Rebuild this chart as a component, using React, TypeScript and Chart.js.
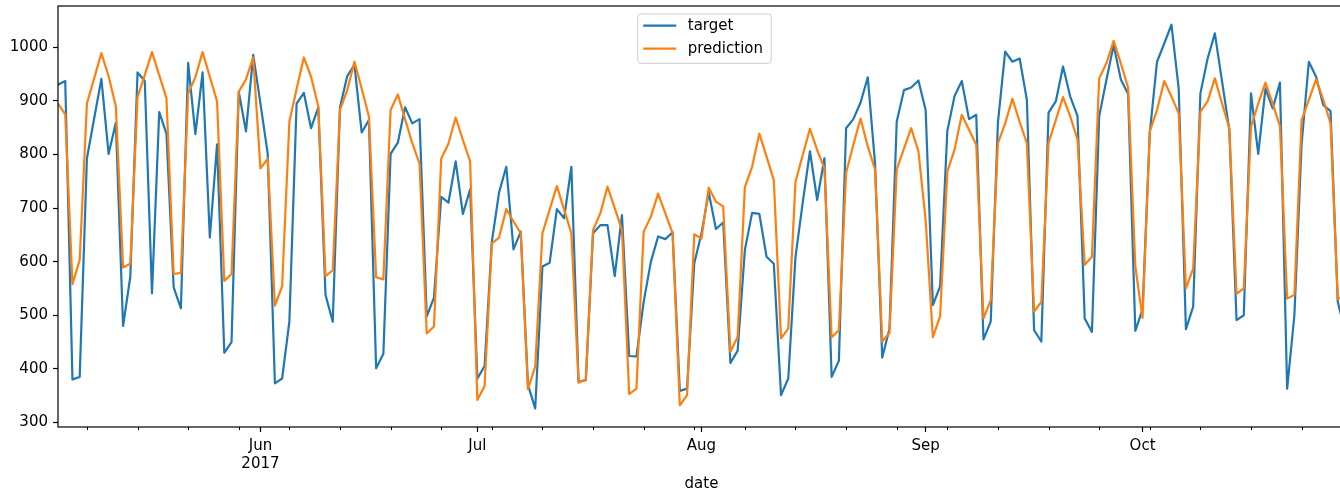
import React, { useEffect, useRef } from 'react';
import { Chart, registerables } from 'chart.js';

Chart.register(...registerables);

// Daily series starting 2017-05-04 (index 0)
const target: number[] = [
  930, 937, 380, 385, 793, 867, 941, 801, 859, 480,
  572, 953, 937, 541, 879, 839, 552, 513, 971, 838,
  953, 645, 819, 430, 450, 917, 843, 986, 895, 802,
  373, 382, 488, 895, 915, 849, 888, 538, 488, 888,
  946, 967, 841, 864, 401, 428, 801, 822, 888, 858,
  866, 498, 533, 721, 710, 787, 689, 735, 382, 405,
  637, 729, 777, 623, 656, 370, 326, 591, 598, 698,
  681, 777, 376, 379, 653, 668, 668, 573, 687, 424,
  423, 525, 600, 647, 642, 655, 359, 363, 597, 653,
  729, 661, 673, 411, 434, 622, 691, 689, 609, 596,
  351, 382, 609, 710, 806, 715, 793, 385, 415, 849,
  866, 897, 944, 784, 421, 475, 861, 920, 925, 938,
  883, 519, 554, 844, 909, 937, 866, 874, 455, 488,
  860, 992, 973, 979, 902, 472, 451, 878, 899, 964,
  908, 872, 494, 469, 871, 939, 1004, 940, 913, 471,
  511, 840, 973, 1007, 1042, 923, 474, 516, 914, 979,
  1026, 936, 846, 491, 500, 914, 801, 923, 886, 934,
  363, 500, 820, 973, 945, 892, 881, 525, 470,
];

const prediction: number[] = [
  895, 875, 558, 603, 895, 942, 989, 946, 890, 589,
  596, 907, 948, 991, 948, 905, 577, 579, 914, 944,
  991, 945, 899, 564, 577, 917, 940, 981, 774, 792,
  518, 554, 861, 922, 981, 945, 890, 573, 584, 883,
  920, 973, 923, 871, 571, 567, 883, 912, 866, 821,
  783, 466, 479, 792, 820, 869, 827, 787, 342, 368,
  634, 645, 698, 675, 653, 362, 404, 653, 697, 741,
  697, 653, 374, 380, 659, 690, 740, 700, 659, 353,
  363, 656, 684, 727, 690, 653, 332, 351, 651, 643,
  738, 712, 703, 432, 460, 739, 777, 839, 796, 752,
  457, 475, 749, 799, 848, 808, 774, 459, 472, 766,
  818, 867, 815, 772, 451, 467, 772, 811, 849, 806,
  678, 459, 498, 768, 809, 874, 846, 818, 494, 528,
  821, 858, 904, 861, 821, 507, 525, 822, 864, 907,
  871, 828, 594, 609, 942, 970, 1012, 970, 925, 591,
  495, 843, 883, 937, 908, 877, 550, 587, 880, 899,
  942, 895, 849, 540, 550, 852, 895, 934, 895, 853,
  531, 538, 864, 902, 940, 902, 858, 531, 535,
];

// Month starts (day index from 2017-05-04) and their labels
const monthTickIdx: number[] = [28, 58, 89, 120, 150];
const monthTickLabels: (string | string[])[] = [['Jun', '2017'], 'Jul', 'Aug', 'Sep', 'Oct'];
// Mondays (minor ticks)
const mondayIdx: number[] = [4, 11, 18, 25, 32, 39, 46, 53, 60, 67, 74, 81, 88, 95, 102, 109, 116, 123, 130, 137, 144, 151, 158, 165, 172];
const yTicks: number[] = [300, 400, 500, 600, 700, 800, 900, 1000];

const BLUE = '#1f77b4';
const ORANGE = '#ff7f0e';
const FONT = "'DejaVu Sans', sans-serif";

const framePlugin = {
  id: 'frame',
  afterDatasetsDraw(chart: any) {
    const { ctx, chartArea } = chart;
    const { left, right, top, bottom } = chartArea;
    ctx.save();
    const xs = chart.scales.x;
    ctx.strokeStyle = '#000';
    ctx.lineWidth = 1;
    ctx.beginPath();
    for (const m of mondayIdx) {
      const px = Math.round(xs.getPixelForValue(m)) + 0.5;
      ctx.moveTo(px, bottom);
      ctx.lineTo(px, bottom + 3);
    }
    ctx.stroke();
    ctx.lineWidth = 1.2;
    ctx.strokeRect(left, top, right - left, bottom - top);
    ctx.restore();
  },
  afterDraw(chart: any) {
    const { ctx, chartArea } = chart;
    const cx = (chartArea.left + chartArea.right) / 2 + 3;
    const bw = 133.5;
    const bx = cx - bw / 2;
    const by = chartArea.top + 8;
    const bh = 49.3;
    ctx.save();
    ctx.beginPath();
    const r = 3;
    ctx.moveTo(bx + r, by);
    ctx.lineTo(bx + bw - r, by);
    ctx.quadraticCurveTo(bx + bw, by, bx + bw, by + r);
    ctx.lineTo(bx + bw, by + bh - r);
    ctx.quadraticCurveTo(bx + bw, by + bh, bx + bw - r, by + bh);
    ctx.lineTo(bx + r, by + bh);
    ctx.quadraticCurveTo(bx, by + bh, bx, by + bh - r);
    ctx.lineTo(bx, by + r);
    ctx.quadraticCurveTo(bx, by, bx + r, by);
    ctx.closePath();
    ctx.fillStyle = 'rgba(255,255,255,0.8)';
    ctx.fill();
    ctx.strokeStyle = '#cccccc';
    ctx.lineWidth = 1;
    ctx.stroke();
    const items = chart.data.datasets.map((d: any) => ({ label: d.label, color: d.borderColor }));
    items.forEach((it: any, k: number) => {
      const y = by + 11.7 + k * 23;
      ctx.strokeStyle = it.color;
      ctx.lineWidth = 2.2;
      ctx.beginPath();
      ctx.moveTo(bx + 5.5, y);
      ctx.lineTo(bx + 38.5, y);
      ctx.stroke();
      ctx.fillStyle = '#000';
      ctx.font = `15px ${FONT}`;
      ctx.textBaseline = 'middle';
      ctx.textAlign = 'left';
      ctx.fillText(it.label, bx + 50, y);
    });
    ctx.restore();
  },
};

export default function App() {
  const ref = useRef<HTMLCanvasElement | null>(null);
  useEffect(() => {
    if (!ref.current) return;
    Chart.defaults.font.family = FONT;
    Chart.defaults.font.size = 15;
    const chart = new Chart(ref.current, {
      type: 'line',
      data: {
        datasets: [
          {
            label: 'target',
            data: target.map((y, i) => ({ x: i, y })),
            borderColor: BLUE,
            backgroundColor: BLUE,
            borderWidth: 2.2,
            pointRadius: 0,
            tension: 0,
            fill: false,
            borderJoinStyle: 'round',
            order: 1,
          },
          {
            label: 'prediction',
            data: prediction.map((y, i) => ({ x: i, y })),
            borderColor: ORANGE,
            backgroundColor: ORANGE,
            borderWidth: 2.2,
            pointRadius: 0,
            tension: 0,
            fill: false,
            borderJoinStyle: 'round',
            order: 0,
          },
        ],
      },
      options: {
        responsive: false,
        animation: false,
        events: [],
        layout: { padding: { top: 6, right: 15, left: 0, bottom: 0 } },
        plugins: { legend: { display: false }, tooltip: { enabled: false }, title: { display: false } },
        scales: {
          x: {
            type: 'linear',
            min: 0,
            max: target.length - 1,
            afterFit: (s: any) => { s.height = 64; s.paddingLeft = 0; s.paddingRight = 0; },
            afterBuildTicks: (s: any) => { s.ticks = monthTickIdx.map((v) => ({ value: v })); },
            ticks: {
              autoSkip: false,
              maxRotation: 0,
              color: '#000',
              padding: 5,
              font: { size: 15, lineHeight: 1.2 },
              callback: (v: any) => {
                const k = monthTickIdx.indexOf(Number(v));
                return k >= 0 ? monthTickLabels[k] : '';
              },
            },
            grid: { display: true, drawOnChartArea: false, tickLength: 5, tickColor: '#000', tickWidth: 1.2 },
            border: { display: false },
            title: { display: true, text: 'date', color: '#000', font: { size: 15, lineHeight: 1.2 }, padding: { top: 0, bottom: -2 } },
          },
          y: {
            min: 291.5,
            max: 1077,
            afterFit: (s: any) => { s.width = 58; s.paddingTop = 0; s.paddingBottom = 0; },
            afterBuildTicks: (s: any) => { s.ticks = yTicks.map((v) => ({ value: v })); },
            ticks: { color: '#000', padding: 5, font: { size: 15, lineHeight: 1.2 }, callback: (v: any) => String(v) },
            grid: { display: true, drawOnChartArea: false, tickLength: 5, tickColor: '#000', tickWidth: 1.2 },
            border: { display: false },
          },
        },
      },
      plugins: [framePlugin],
    });
    return () => chart.destroy();
  }, []);
  return (
    <div style={{ position: 'fixed', left: 0, top: 0, width: 1340, height: 491, overflow: 'hidden', background: '#fff' }}>
      <canvas ref={ref} width={1360} height={491} style={{ display: 'block' }} />
    </div>
  );
}
